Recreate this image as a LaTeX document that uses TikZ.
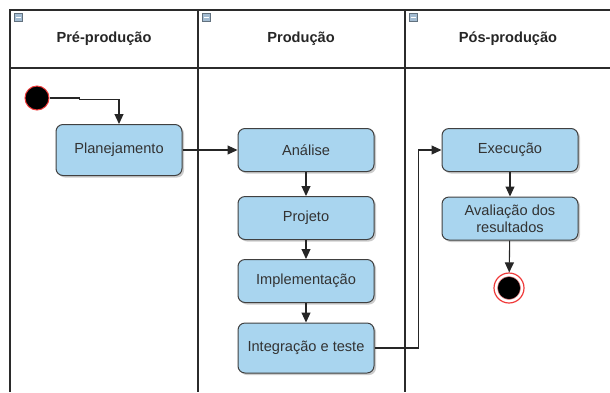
\documentclass[tikz,border=0pt]{standalone}
\usepackage{fontspec}
\setmainfont{Liberation Sans}
\usepackage{tikz}
\usetikzlibrary{arrows.meta,shadows}
\definecolor{boxblue}{HTML}{A9D5EF}
\definecolor{lanegray}{HTML}{2B2B2B}
\definecolor{icongray}{HTML}{A3BCD2}
\definecolor{startred}{HTML}{F03A3A}
\newcommand\laneicon[1]{\draw[icongray!60!black,fill=icongray,line width=.6pt] (#1+4,13) rectangle ++(8,8); \draw[white,line width=.9pt] (#1+5.5,17) -- ++(5,0);}

\begin{document}
\begin{tikzpicture}[x=1pt,y=-1pt,
  lane/.style={draw=lanegray,line width=1.5pt},
  lanetitle/.style={font=\bfseries\fontsize{14.6}{17}\selectfont,text=black!85},
  activity/.style={draw=black!75,line width=1pt,fill=boxblue,rounded corners=7pt,
    minimum width=136pt,minimum height=43pt,align=center,text=black!80,
    font=\fontsize{14.6}{17}\selectfont,
    drop shadow={shadow xshift=2pt,shadow yshift=-2pt,opacity=.2,fill=black}},
  flow/.style={draw=black!85,line width=1.1pt,-{Triangle[length=10pt,width=9pt]}}]
\useasboundingbox (0,0) rectangle (610,392);
% swimlanes
\draw[lane] (10,392) -- (10,10) -- (612,10);
\draw[lane] (10,68) -- (612,68);
\draw[lane] (198,10) -- (198,392);
\draw[lane] (405,10) -- (405,392);
\laneicon{10}
\laneicon{198}
\laneicon{405}
\node[lanetitle] (tpre) at (104,39) {Pré-produção};
\node[lanetitle] (tprod) at (301,39) {Produção};
\node[lanetitle] (tpos) at (508,39) {Pós-produção};
% activities
\node[circle,fill=black,draw=startred,line width=1pt,minimum size=24pt,inner sep=0pt] (start) at (37,98) {};
\node[activity,minimum width=126pt,minimum height=51pt] (plan) at (119,150) {Planejamento};
\node[activity] (ana) at (306,150) {Análise};
\node[activity] (proj) at (306,218) {Projeto};
\node[activity] (impl) at (306,281) {Implementação};
\node[activity,minimum height=50pt] (integ) at (306,348) {Integração e teste};
\node[activity] (exec) at (510,150) {Execução};
\node[activity] (aval) at (510,218.5) {Avaliação dos\\resultados};
\node[circle,draw=startred,line width=1.2pt,fill=white,minimum size=30pt,inner sep=0pt] (end) at (509,288) {};
\node[circle,fill=black,draw=startred!60,line width=.5pt,minimum size=23pt,inner sep=0pt] (endin) at (end) {};
% flows
\draw[flow] (start.east) -- ++(30,0) -- ++(0,1.5) -| (plan.north);
\draw[flow] (plan) -- (ana);
\draw[flow] (ana) -- (proj);
\draw[flow] (proj) -- (impl);
\draw[flow] (impl) -- (integ);
\draw[flow] (integ.east) -- ++(44,0) |- (exec.west);
\draw[flow] (exec) -- (aval);
\draw[flow] (aval) -- (end);
\end{tikzpicture}
\end{document}
